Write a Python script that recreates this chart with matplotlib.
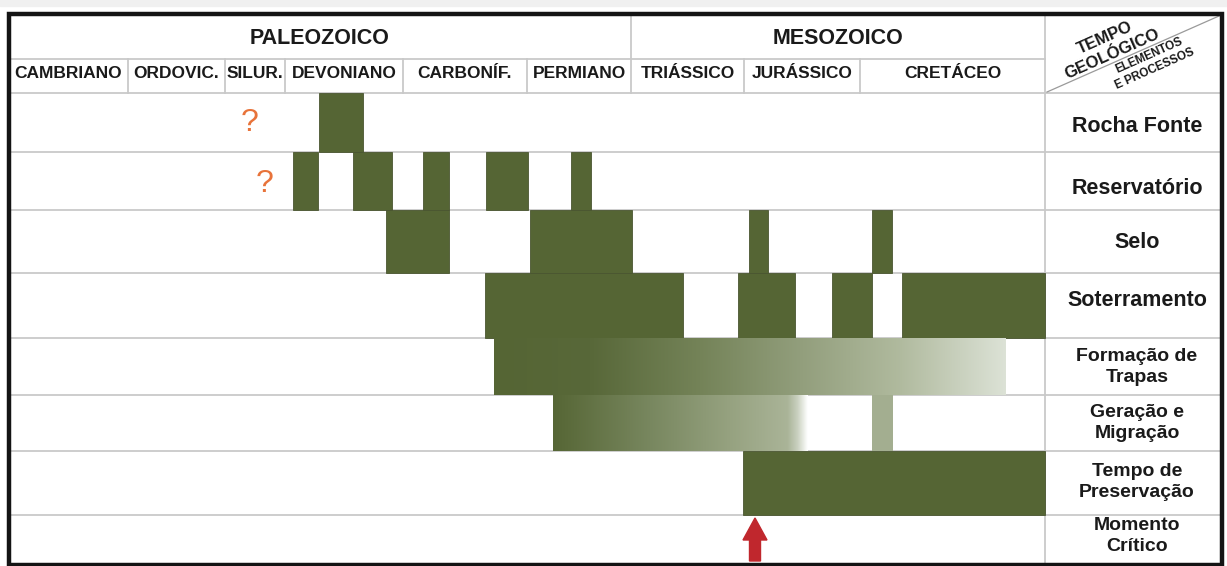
import numpy as np
import matplotlib
matplotlib.use("Agg")
import matplotlib.pyplot as plt
from matplotlib.patches import Rectangle, FancyArrow

plt.rcParams['font.family'] = ['Liberation Sans', 'DejaVu Sans']

# --- chart content -------------------------------------------------------
eras = ['PALEOZOICO', 'MESOZOICO']
era_edges = [9, 631, 1045]

periods = ['CAMBRIANO', 'ORDOVIC.', 'SILUR.', 'DEVONIANO', 'CARBONÍF.',
           'PERMIANO', 'TRIÁSSICO', 'JURÁSSICO', 'CRETÁCEO']
period_edges = [9, 128, 225, 285, 403, 527, 631, 744, 860, 1045]

rows = ['Rocha Fonte', 'Reservatório', 'Selo', 'Soterramento',
        'Formação de\nTrapas', 'Geração e\nMigração',
        'Tempo de\nPreservação', 'Momento\nCrítico']
row_edges = [93, 152, 210, 273, 338, 395, 451, 515, 564]
label_y = [127, 188, 243, 301, 367, 423, 482, 536]

# intervals along the time axis (start, end) for each element / process
rocha_fonte = [(319, 363)]
reservatorio = [(293, 318), (353, 392), (423, 449), (486, 528), (571, 591)]
selo = [(386, 449), (530, 632), (749, 768), (872, 892)]
soterramento = [(485, 683), (738, 795), (832, 872), (902, 1045)]
formacao_trapas = (494, 1006)      # fading towards younger times
geracao_migracao = (553, 808)      # fading
geracao_pulso = (872, 893)
preservacao = [(743, 1045)]
momento_critico = 755
duvida = {'Rocha Fonte': 250, 'Reservatório': 265}   # uncertain onset "?"

green = '#556534'
grid = '#c9c9c9'

fig = plt.figure(figsize=(12.27, 5.66), dpi=100)
ax = fig.add_axes([0, 0, 1, 1])
ax.set_xlim(0, 1227)
ax.set_ylim(566, 0)
ax.axis('off')

# light strip on top of the page
ax.axhspan(0, 6, color='#f0f0f0', zorder=0)

x0, x1 = era_edges[0], 1222
label_left = era_edges[-1]

# solid bars
solid = {'Rocha Fonte': rocha_fonte, 'Reservatório': reservatorio,
         'Selo': selo, 'Soterramento': soterramento,
         'Tempo de\nPreservação': preservacao}
for name, spans in solid.items():
    i = rows.index(name)
    top, bot = row_edges[i], row_edges[i + 1]
    for a, b in spans:
        ax.add_patch(Rectangle((a, top), b - a, bot - top, facecolor=green,
                               edgecolor='#4a5630', lw=0.6, zorder=2))


def gradient(span, row, stops):
    a, b = span
    top, bot = row_edges[rows.index(row)], row_edges[rows.index(row) + 1]
    xs = np.linspace(a, b, 400)
    px = [s[0] for s in stops]
    rgb = np.stack([np.interp(xs, px, [s[1][k] for s in stops]) for k in range(3)],
                   axis=-1) / 255.0
    ax.imshow(rgb[None, :, :], extent=(a, b, bot, top), aspect='auto',
              interpolation='bilinear', zorder=2)


gradient(formacao_trapas, 'Formação de\nTrapas',
         [(494, (85, 101, 52)), (590, (88, 104, 57)), (700, (116, 131, 88)),
          (800, (146, 158, 124)), (900, (176, 186, 158)), (1006, (220, 226, 214))])
gradient(geracao_migracao, 'Geração e\nMigração',
         [(553, (86, 102, 54)), (565, (90, 106, 58)), (650, (120, 135, 95)),
          (730, (150, 162, 128)), (788, (170, 180, 152)), (798, (202, 209, 192)),
          (808, (255, 255, 255))])
gi = rows.index('Geração e\nMigração')
ax.add_patch(Rectangle((geracao_pulso[0], row_edges[gi]),
                       geracao_pulso[1] - geracao_pulso[0],
                       row_edges[gi + 1] - row_edges[gi],
                       facecolor='#a3ae90', edgecolor='none', zorder=2))

ax.set_xlim(0, 1227)
ax.set_ylim(566, 0)

# critical moment arrow
ax.add_patch(FancyArrow(momento_critico, 561, 0, -(561 - 518), width=11,
                        head_width=24, head_length=22, length_includes_head=True,
                        color='#c0272d', zorder=3))

# question marks
for name, xq in duvida.items():
    i = rows.index(name)
    ax.text(xq, label_y[i] - 4, '?', color='#e8733a',
            fontsize=23, ha='center', va='center', zorder=3)

# grid lines
for y in row_edges[:-1]:
    ax.plot([x0, x1], [y, y], color=grid, lw=1.3, zorder=1)
ax.plot([era_edges[0], label_left], [59, 59], color=grid, lw=1.3, zorder=1)
for xe in period_edges[1:-1]:
    ax.plot([xe, xe], [59, 93], color=grid, lw=1.3, zorder=1)
ax.plot([era_edges[1], era_edges[1]], [14, 59], color=grid, lw=1.3, zorder=1)
ax.plot([label_left, label_left], [14, 564], color=grid, lw=1.3, zorder=1)

# header texts
for k, name in enumerate(eras):
    ax.text((era_edges[k] + era_edges[k + 1]) / 2, 38, name, fontsize=15.5,
            fontweight='bold', ha='center', va='center', color='#1a1a1a')
for k, name in enumerate(periods):
    ax.text((period_edges[k] + period_edges[k + 1]) / 2, 73.5, name, fontsize=12.5,
            fontweight='bold', ha='center', va='center', color='#1a1a1a')

# corner cell
ax.plot([1047, 1219], [92, 16], color='#9a9a9a', lw=0.9, zorder=1)
ax.text(1109, 46, 'TEMPO\nGEOLÓGICO', fontsize=12, fontweight='bold',
        rotation=24, ha='center', va='center', linespacing=1.25,
        rotation_mode='anchor', color='#1a1a1a')
ax.text(1152, 62, 'ELEMENTOS\nE PROCESSOS', fontsize=8.5, fontweight='bold',
        rotation=24, ha='center', va='center', linespacing=1.3,
        rotation_mode='anchor', color='#1a1a1a')

# row labels
for i, name in enumerate(rows):
    two = '\n' in name
    ax.text(1137, label_y[i], name, fontsize=14 if two else 15.5,
            fontweight='bold', ha='center', va='center', linespacing=1.35,
            color='#1a1a1a')

# outer frame
ax.add_patch(Rectangle((8.5, 13.5), 1222 - 8.5, 564.5 - 13.5, fill=False,
                       edgecolor='#141414', lw=3.2, zorder=5))

fig.savefig('out.png', dpi=100)
